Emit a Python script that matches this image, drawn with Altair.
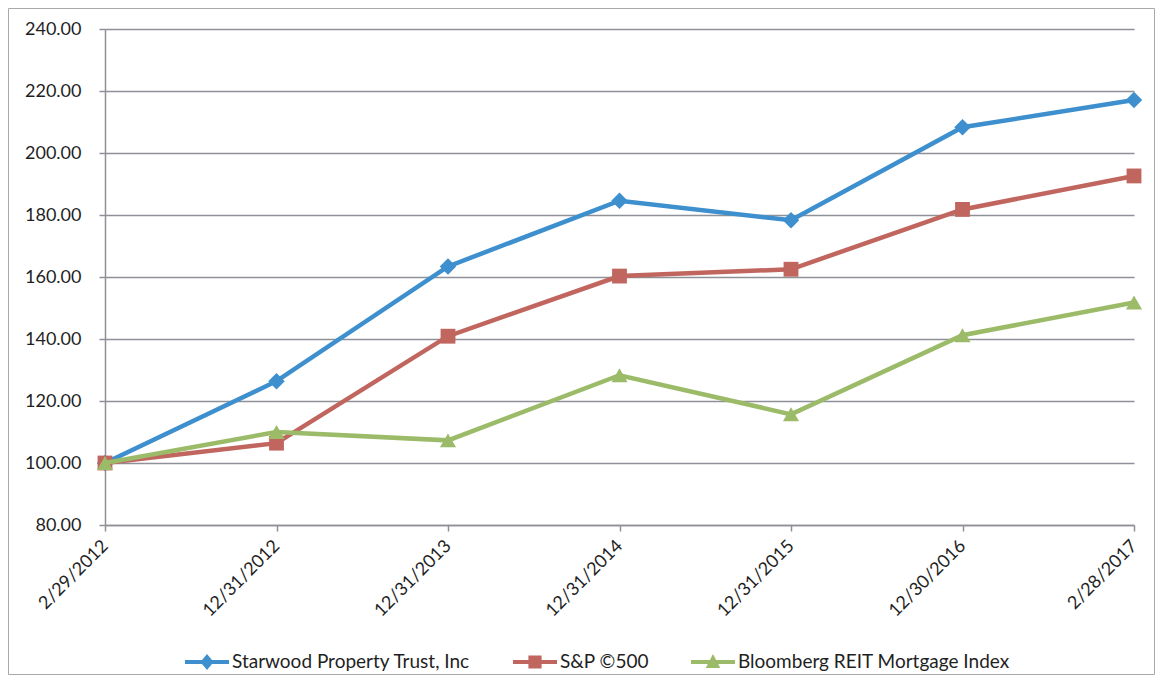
import altair as alt
import pandas as pd

dates = ["2/29/2012", "12/31/2012", "12/31/2013", "12/31/2014",
         "12/31/2015", "12/30/2016", "2/28/2017"]
series_names = ["Starwood Property Trust, Inc", "S&P ©500",
                "Bloomberg REIT Mortgage Index"]
starwood = [100.00, 126.4, 163.4, 184.6, 178.3, 208.3, 217.1]
sp500 = [100.00, 106.4, 140.9, 160.3, 162.5, 181.8, 192.6]
bloomberg = [100.00, 110.0, 107.3, 128.3, 115.7, 141.2, 151.8]
y_ticks = [80, 100, 120, 140, 160, 180, 200, 220, 240]

colors = ["#3d8fce", "#c0665f", "#9bbb68"]
shapes = ["diamond", "square", "triangle-up"]
marker_sizes = [270, 220, 260]
legend_paths = [
    "M-1,-0.09L-0.225,-0.09L0,-0.36L0.225,-0.09L1,-0.09L1,0.09L0.225,0.09L0,0.36L-0.225,0.09L-1,0.09Z",
    "M-1,-0.09L-0.3,-0.09L-0.3,-0.3L0.3,-0.3L0.3,-0.09L1,-0.09L1,0.09L0.3,0.09L0.3,0.3L-0.3,0.3L-0.3,0.09L-1,0.09Z",
    "M-1,-0.09L-0.141,-0.09L0,-0.36L0.141,-0.09L1,-0.09L1,0.09L0.236,0.09L0.33,0.27L-0.33,0.27L-0.236,0.09L-1,0.09Z",
]

rows = []
for name, vals in zip(series_names, [starwood, sp500, bloomberg]):
    for d, v in zip(dates, vals):
        rows.append({"date": d, "series": name, "value": v})
df = pd.DataFrame(rows)

FONT = "Lato"
GREY = "#8e9198"
TXT = "#1f1f1f"

x_enc = alt.X(
    "date:N", sort=dates,
    scale=alt.Scale(type="point", padding=0),
    axis=alt.Axis(title=None, labelAngle=-45, labelAlign="right",
                  labelBaseline="middle", labelPadding=12, grid=False,
                  labelFont=FONT, labelFontSize=18, labelColor=TXT,
                  domainColor=GREY, domainWidth=1.5, tickColor=GREY,
                  tickWidth=1.5, tickSize=6),
)
y_enc = alt.Y(
    "value:Q",
    scale=alt.Scale(domain=[80, 240], nice=False, zero=False),
    axis=alt.Axis(title=None, values=y_ticks, format=".2f", grid=True,
                  gridColor=GREY, gridWidth=1.4, labelPadding=18,
                  labelFont=FONT, labelFontSize=18, labelColor=TXT,
                  domainColor=GREY, domainWidth=1.5, tickColor=GREY,
                  tickWidth=1.5, tickSize=6),
)

base = alt.Chart(df)
layers = []
for name, shp, col, sz in zip(series_names, shapes, colors, marker_sizes):
    sub = base.transform_filter(alt.datum.series == name)
    layers.append(sub.mark_line(strokeWidth=4.5, color=col).encode(
        x=x_enc, y=y_enc))
    layers.append(sub.mark_point(shape=shp, filled=True, size=sz, opacity=1,
                                 color=col).encode(x=x_enc, y=y_enc))

leg = alt.Legend(title=None, orient="none", legendX=80, legendY=611,
                 direction="horizontal", columns=3, columnPadding=42,
                 labelFont=FONT, labelFontSize=19, labelColor=TXT,
                 labelOffset=3, labelLimit=0, symbolSize=1936,
                 symbolStrokeWidth=0, symbolOpacity=1, padding=0)
legend_layer = base.transform_filter("false").mark_point(
    filled=True, size=1936, opacity=1).encode(
    x=x_enc, y=y_enc,
    color=alt.Color("series:N",
                    scale=alt.Scale(domain=series_names, range=colors),
                    legend=leg),
    shape=alt.Shape("series:N",
                    scale=alt.Scale(domain=series_names, range=legend_paths),
                    legend=leg),
)

border = alt.Chart(pd.DataFrame({"a": [0]})).mark_rect(
    filled=False, stroke="#a9a9a9", strokeWidth=1).encode(
    x=alt.value(-96.5), x2=alt.value(1049.5),
    y=alt.value(-20.5), y2=alt.value(645.5))

chart = alt.layer(border, *layers, legend_layer).properties(
    width=1029, height=496,
    background="white",
    autosize=alt.AutoSizeParams(type="none"),
    padding={"left": 97, "top": 21, "right": 21, "bottom": 150},
).configure_view(stroke="transparent", strokeWidth=0)

chart.save("out.html", embed_options={"renderer": "svg", "actions": False})
